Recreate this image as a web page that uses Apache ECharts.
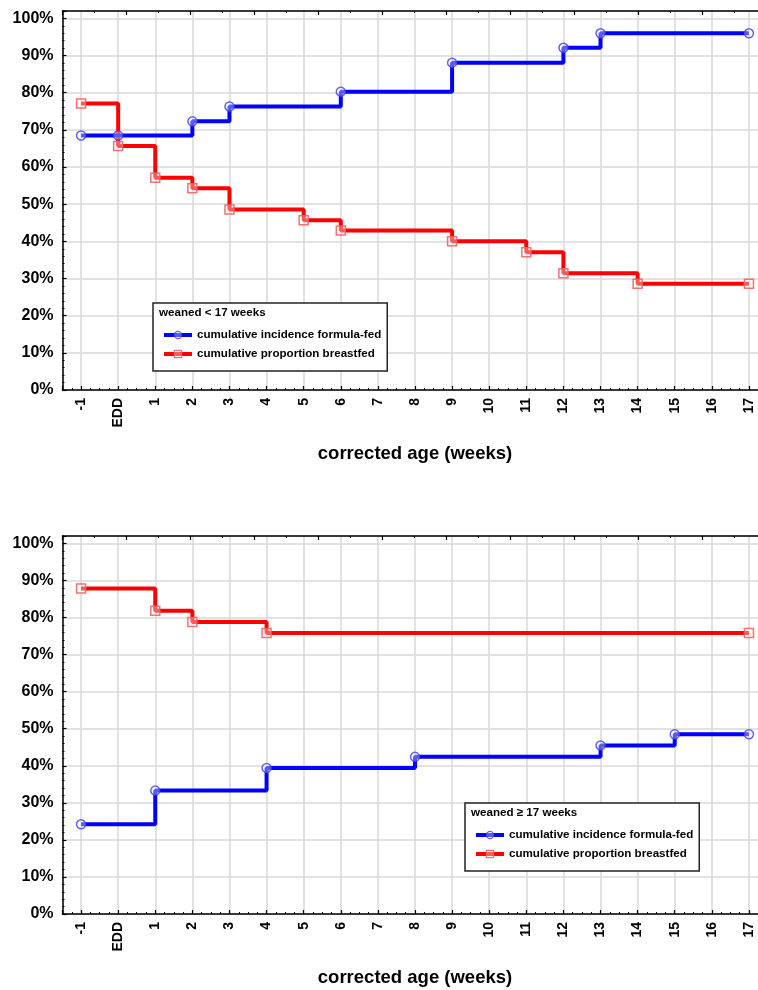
<!DOCTYPE html>
<html>
<head>
<meta charset="utf-8">
<script src="https://cdn.jsdelivr.net/npm/echarts@6/dist/echarts.min.js"></script>
<style>
  html, body { margin: 0; padding: 0; background: #fff; }
  #chart { width: 758px; height: 990px; }
</style>
</head>
<body>
<div id="chart"></div>
<script>
// Week codes on the x axis: -1, 0 (= EDD), 1 ... 17
const weekTicks = [-1, 0, 1, 2, 3, 4, 5, 6, 7, 8, 9, 10, 11, 12, 13, 14, 15, 16, 17];
const weekLabels = ['-1', 'EDD', '1', '2', '3', '4', '5', '6', '7', '8', '9', '10', '11', '12', '13', '14', '15', '16', '17'];

// Panel 1: weaned < 17 weeks
const earlyFormulaWeeks = [-1, 0, 2, 3, 6, 9, 12, 13, 17];
const earlyFormulaPct   = [68.5, 68.5, 72.3, 76.3, 80.3, 88.1, 92.1, 96.0, 96.0];
const earlyBreastWeeks  = [-1, 0, 1, 2, 3, 5, 6, 9, 11, 12, 14, 17];
const earlyBreastPct    = [77.1, 65.7, 57.1, 54.3, 48.6, 45.7, 42.9, 40.0, 37.1, 31.4, 28.6, 28.6];

// Panel 2: weaned >= 17 weeks
const lateFormulaWeeks = [-1, 1, 4, 8, 13, 15, 17];
const lateFormulaPct   = [24.2, 33.3, 39.4, 42.4, 45.5, 48.5, 48.5];
const lateBreastWeeks  = [-1, 1, 2, 4, 17];
const lateBreastPct    = [87.8, 81.8, 78.8, 75.8, 75.8];

const yTicks = [0, 10, 20, 30, 40, 50, 60, 70, 80, 90, 100];

const seriesNames = ['cumulative incidence formula-fed', 'cumulative proportion breastfed'];
const panelTitles = ['weaned < 17 weeks', 'weaned \u2265 17 weeks'];
const xAxisTitle = 'corrected age (weeks)';

const FONT = '"Liberation Sans", Arial, sans-serif';
const BLUE = '#0000ff';
const RED = '#ff0000';
const GRID_LINE = '#d9d9d9';

const pairs = (xs, ys) => xs.map((x, i) => [x, ys[i]]);
const labelFor = v => {
  const i = weekTicks.indexOf(Math.round(v * 1000) / 1000);
  return i >= 0 ? weekLabels[i] : '';
};

const plotLeft = 62.5;
const plotWidth = 705;   // the frame runs past the right edge of the page
const panels = [
  { top: 11, height: 379, formula: pairs(earlyFormulaWeeks, earlyFormulaPct), breast: pairs(earlyBreastWeeks, earlyBreastPct),
    legend: { left: 153, top: 303 } },
  { top: 536, height: 378, formula: pairs(lateFormulaWeeks, lateFormulaPct), breast: pairs(lateBreastWeeks, lateBreastPct),
    legend: { left: 465, top: 803 } }
];

const grid = [], xAxis = [], yAxis = [], series = [], legend = [], graphic = [];

panels.forEach((p, k) => {
  grid.push({
    left: plotLeft, top: p.top, width: plotWidth, height: p.height,
    containLabel: false, outerBoundsMode: 'none'
  });

  // bottom week axis
  xAxis.push({
    type: 'value', gridIndex: k, position: 'bottom',
    min: -1.5, max: 17.5, minInterval: 1, maxInterval: 1,
    axisLine: { show: true, onZero: false, lineStyle: { color: '#000', width: 1.5 } },
    axisTick: { show: true, inside: true, length: 4, lineStyle: { color: '#000', width: 1.2 } },
    minorTick: { show: true, splitNumber: 4, length: 2, lineStyle: { color: '#000', width: 1 } },
    axisLabel: {
      rotate: 90, margin: 8, color: '#000', fontFamily: FONT, fontWeight: 'bold', fontSize: 14,
      formatter: labelFor, showMinLabel: true, showMaxLabel: true
    },
    splitLine: { show: true, lineStyle: { color: GRID_LINE, width: 1.5 } },
    name: xAxisTitle, nameLocation: 'middle', nameGap: 54,
    nameTextStyle: { color: '#000', fontFamily: FONT, fontWeight: 'bold', fontSize: 18.5 }
  });

  // top frame axis with its own tick marks
  xAxis.push({
    type: 'value', gridIndex: k, position: 'top',
    min: 0, max: plotWidth / 64, interval: 1,
    axisLine: { show: true, onZero: false, lineStyle: { color: '#000', width: 1.5 } },
    axisTick: { show: true, inside: true, length: 4, lineStyle: { color: '#000', width: 1.2 } },
    minorTick: { show: true, splitNumber: 2, length: 2, lineStyle: { color: '#000', width: 1 } },
    axisLabel: { show: false },
    splitLine: { show: false }
  });

  yAxis.push({
    type: 'value', gridIndex: k, min: 0, max: 102, interval: 10,
    axisLine: { show: true, onZero: false, lineStyle: { color: '#000', width: 1.5 } },
    axisTick: { show: true, inside: true, length: 4, lineStyle: { color: '#000', width: 1.2 } },
    minorTick: { show: true, splitNumber: 5, length: 2, lineStyle: { color: '#000', width: 1 } },
    axisLabel: {
      margin: 9, color: '#000', fontFamily: FONT, fontWeight: 'bold', fontSize: 16,
      formatter: v => (yTicks.indexOf(v) >= 0 ? v + '%' : '')
    },
    splitLine: { show: true, lineStyle: { color: GRID_LINE, width: 1.5 } }
  });

  series.push({
    name: seriesNames[0], type: 'line', step: 'end',
    xAxisIndex: 2 * k, yAxisIndex: k, data: p.formula,
    lineStyle: { color: BLUE, width: 4 },
    symbol: 'circle', symbolSize: 9,
    itemStyle: { color: 'rgba(255,255,255,0.35)', borderColor: 'rgba(70,70,235,0.85)', borderWidth: 1.5 },
    emphasis: { disabled: true }, animation: false, z: 3
  });
  series.push({
    name: seriesNames[1], type: 'line', step: 'end',
    xAxisIndex: 2 * k, yAxisIndex: k, data: p.breast,
    lineStyle: { color: RED, width: 4 },
    symbol: 'rect', symbolSize: 9,
    itemStyle: { color: 'rgba(255,255,255,0.35)', borderColor: 'rgba(240,100,100,0.9)', borderWidth: 1.5 },
    emphasis: { disabled: true }, animation: false, z: 2
  });

  legend.push({
    orient: 'vertical', left: p.legend.left, top: p.legend.top,
    data: seriesNames,
    padding: [26, 6, 11, 9], itemGap: 7, itemWidth: 28, itemHeight: 9,
    itemStyle: { borderWidth: 1.2 },
    lineStyle: { width: 4 },
    borderColor: '#222', borderWidth: 1.5, backgroundColor: '#fff',
    textStyle: { color: '#000', fontFamily: FONT, fontWeight: 'bold', fontSize: 11.6 },
    selectedMode: false
  });

  graphic.push({
    type: 'text', left: p.legend.left + 6, top: p.legend.top + 4, z: 100,
    style: { text: panelTitles[k], fill: '#000', font: 'bold 11.6px ' + FONT }
  });
});

const chart = echarts.init(document.getElementById('chart'), null, { renderer: 'canvas' });
chart.setOption({
  animation: false,
  backgroundColor: '#fff',
  grid, xAxis, yAxis, series, legend, graphic
});
</script>
</body>
</html>
